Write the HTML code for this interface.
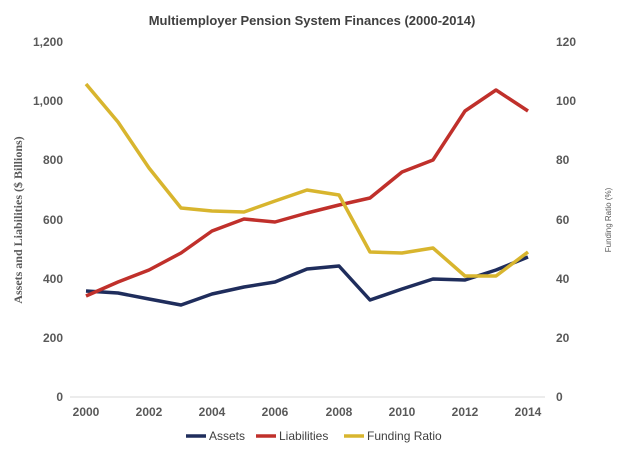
<!DOCTYPE html>
<html><head><meta charset="utf-8"><style>
body{margin:0;background:#fff;}
svg text{font-family:"Liberation Sans",sans-serif;}
</style></head><body>
<svg width="624" height="452" viewBox="0 0 624 452" xmlns="http://www.w3.org/2000/svg">
<rect width="624" height="452" fill="#fff"/>
<text x="312" y="25" text-anchor="middle" font-size="13" font-weight="bold" fill="#404040">Multiemployer Pension System Finances (2000-2014)</text>
<line x1="70" y1="397" x2="545" y2="397" stroke="#d9d9d9" stroke-width="1"/>
<g font-size="12" font-weight="bold" fill="#595959" text-anchor="end">
<text x="63" y="46">1,200</text><text x="63" y="105">1,000</text><text x="63" y="164">800</text><text x="63" y="224">600</text><text x="63" y="283">400</text><text x="63" y="342">200</text><text x="63" y="401">0</text>
</g>
<g font-size="12" font-weight="bold" fill="#595959" text-anchor="start">
<text x="556" y="46">120</text><text x="556" y="105">100</text><text x="556" y="164">80</text><text x="556" y="224">60</text><text x="556" y="283">40</text><text x="556" y="342">20</text><text x="556" y="401">0</text>
</g>
<g font-size="12" font-weight="bold" fill="#595959" text-anchor="middle">
<text x="86" y="416">2000</text><text x="149" y="416">2002</text><text x="212" y="416">2004</text><text x="275" y="416">2006</text><text x="339" y="416">2008</text><text x="402" y="416">2010</text><text x="465" y="416">2012</text><text x="528" y="416">2014</text>
</g>
<text transform="translate(22,220) rotate(-90)" text-anchor="middle" font-size="12" font-weight="bold" fill="#595959" style="font-family:'Liberation Serif',serif">Assets and Liabilities ($ Billions)</text>
<text transform="translate(611,220) rotate(-90)" text-anchor="middle" font-size="8" fill="#595959">Funding Ratio (%)</text>
<g fill="none" stroke-width="3.5" stroke-linejoin="round">
<polyline stroke="#1f2d5c" points="86,291 118,293 149,299 181,305 212,294 244,287 275,282 307,269 339,266 370,300 402,289 433,279 465,280 496,270 528,257"/>
<polyline stroke="#c0302b" points="86,296 118,282 149,270 181,253 212,231 244,219 275,222 307,213 339,205 370,198 402,172 433,160 465,111 496,90 528,111"/>
<polyline stroke="#d8b52e" points="86,84 118,122 149,168 181,208 212,211 244,212 275,201 307,190 339,195 370,252 402,253 433,248 465,276 496,276 528,252"/>
</g>
<g font-size="12" fill="#404040">
<line x1="186" y1="436" x2="206" y2="436" stroke="#1f2d5c" stroke-width="3.5"/><text x="209" y="440">Assets</text>
<line x1="256" y1="436" x2="276" y2="436" stroke="#c0302b" stroke-width="3.5"/><text x="279" y="440">Liabilities</text>
<line x1="344" y1="436" x2="364" y2="436" stroke="#d8b52e" stroke-width="3.5"/><text x="367" y="440">Funding Ratio</text>
</g>
</svg>
</body></html>
